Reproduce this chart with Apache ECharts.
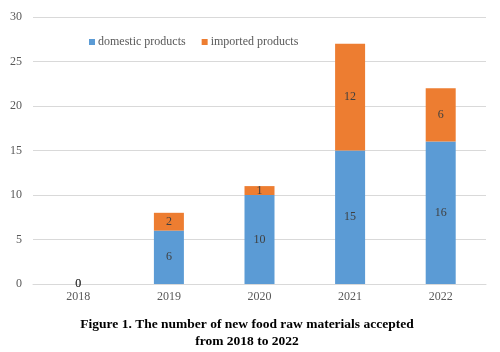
<!DOCTYPE html>
<html><head><meta charset="utf-8">
<script src="https://cdn.jsdelivr.net/npm/echarts@6/dist/echarts.min.js"></script>
<style>html,body{margin:0;padding:0;background:#fff}#c{width:500px;height:352px}</style>
</head><body><div id="c"></div>
<script>
const categories = ['2018','2019','2020','2021','2022'];
const domestic = [0, 6, 10, 15, 16];
const imported = [0, 2, 1, 12, 6];
const seriesNames = ['domestic products','imported products'];
const titleText = 'Figure 1. The number of new food raw materials accepted\nfrom 2018 to 2022';

const font = 'Liberation Serif';
const chart = echarts.init(document.getElementById('c'), null, {renderer:'canvas'});
const lbl = {show:true, position:'inside', color:'#404040', fontFamily:font, fontSize:12};
chart.setOption({
  animation:false,
  title:{text:titleText, left:242, top:311, textAlign:'center',
    textStyle:{fontFamily:font, fontWeight:'bold', fontSize:13.5, color:'#000', lineHeight:17}},
  legend:{left:84, top:31, itemWidth:6, itemHeight:6, itemGap:16, icon:'rect',
    textStyle:{fontFamily:font, fontSize:12, color:'#595959', padding:[0,0,0,-2]}},
  grid:{left:33, right:14, top:17, bottom:68, containLabel:false},
  xAxis:{type:'category', data:categories,
    axisLine:{lineStyle:{color:'#d9d9d9'}}, axisTick:{show:false},
    axisLabel:{fontFamily:font, fontSize:12, color:'#595959', margin:7}},
  yAxis:{type:'value', min:0, max:30, interval:5,
    axisLine:{show:false}, axisTick:{show:false},
    splitLine:{lineStyle:{color:'#d9d9d9'}},
    axisLabel:{fontFamily:font, fontSize:12, color:'#595959', margin:11}},
  series:[
    {name:seriesNames[0], type:'bar', stack:'a', data:domestic, barWidth:30,
      itemStyle:{color:'#5B9BD5'}, label:lbl},
    {name:seriesNames[1], type:'bar', stack:'a', data:imported, barWidth:30,
      itemStyle:{color:'#ED7D31'}, label:lbl}
  ]
});
</script></body></html>
